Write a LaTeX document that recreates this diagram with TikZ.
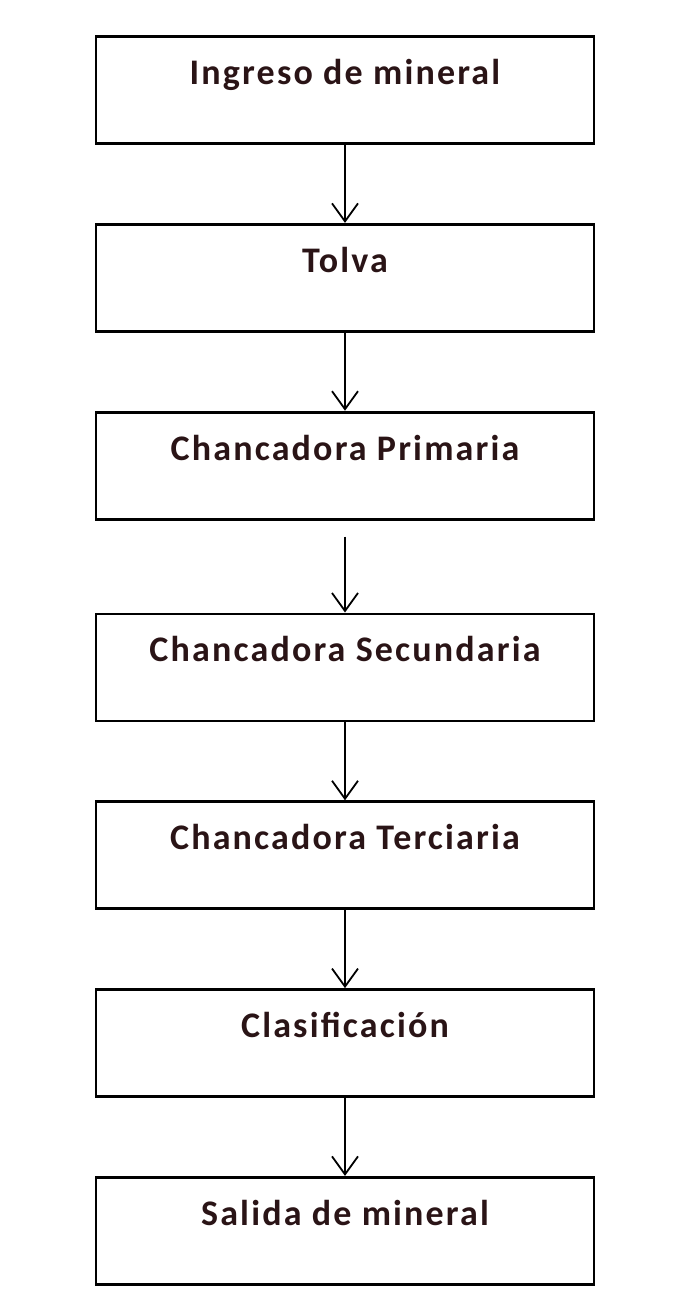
\documentclass[tikz,border=0pt]{standalone}
\usepackage{fontspec}
\setmainfont{Carlito}
\usepackage{xcolor}
\usepackage{tikz}
\usetikzlibrary{arrows.meta, positioning}

\definecolor{inkbrown}{HTML}{2A1416}

\begin{document}
\begin{tikzpicture}[font=\fontsize{18}{21}\selectfont\bfseries\addfontfeatures{LetterSpace=6},
  node distance=39pt,
  stage/.style={draw, line width=1.4pt, minimum width=249pt, inner sep=0pt,
    text height=24pt, text depth=29.5pt, align=center, text=inkbrown},
  flow/.style={line width=0.9pt, -{Straight Barb[length=9pt, width=13pt, line width=0.9pt]}}]
\useasboundingbox (0,0) rectangle (336.5pt,-645.5pt);
\node[stage] (ingreso) at (172.5pt,-45pt) {Ingreso de mineral};
\node[stage, below=of ingreso] (tolva) {Tolva};
\node[stage, below=of tolva] (primaria) {Chancadora Primaria};
\node[stage, below=46pt of primaria] (secundaria) {Chancadora Secundaria};
\node[stage, below=of secundaria] (terciaria) {Chancadora Terciaria};
\node[stage, below=of terciaria] (clasif) {Clasificación};
\node[stage, below=of clasif] (salida) {Salida de mineral};
\draw[flow] (ingreso) -- (tolva);
\draw[flow] (tolva) -- (primaria);
\draw[flow, shorten <=8pt] (primaria) -- (secundaria);
\draw[flow] (secundaria) -- (terciaria);
\draw[flow] (terciaria) -- (clasif);
\draw[flow] (clasif) -- (salida);
\end{tikzpicture}
\end{document}
